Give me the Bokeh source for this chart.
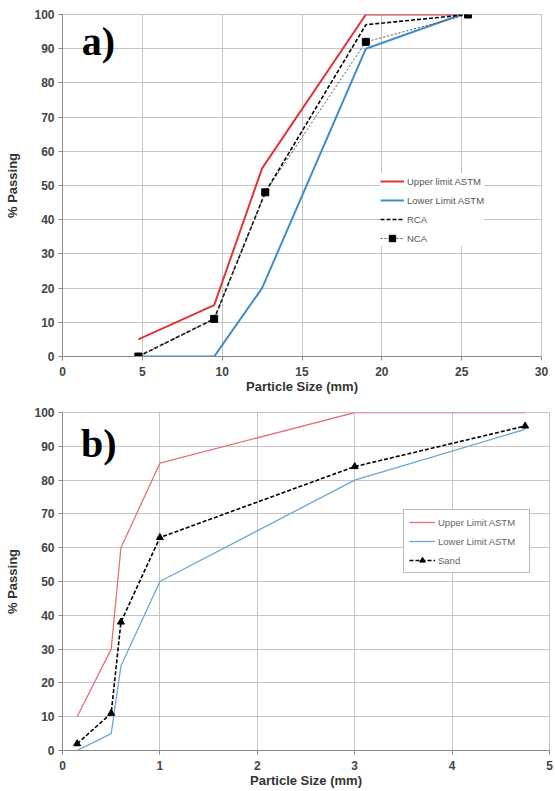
from bokeh.plotting import figure
from bokeh.models import FixedTicker, Range1d, Legend, LegendItem, Label
from bokeh.layouts import column
from bokeh.embed import file_html
from bokeh.resources import INLINE

# ---- Panel a data ----
a_upper_x = [4.75, 9.5, 12.5, 19.0, 25.0]
a_upper_y = [5, 15, 55, 100, 100]
a_lower_x = [4.75, 9.5, 12.5, 19.0, 25.0]
a_lower_y = [0, 0, 20, 90, 100]
a_rca_x = [4.75, 9.5, 12.7, 19.0, 25.4]
a_rca_y = [0, 11, 48, 97, 100]
a_nca_x = [4.75, 9.5, 12.7, 19.0, 25.4]
a_nca_y = [0, 11, 48, 92, 100]
a_xticks = [0, 5, 10, 15, 20, 25, 30]

# ---- Panel b data ----
b_upper_x = [0.15, 0.5, 0.6, 1.0, 3.0, 4.75]
b_upper_y = [10, 30, 60, 85, 100, 100]
b_lower_x = [0.15, 0.5, 0.6, 1.0, 3.0, 4.75]
b_lower_y = [0, 5, 25, 50, 80, 95]
b_sand_x = [0.15, 0.5, 0.6, 1.0, 3.0, 4.75]
b_sand_y = [2, 11, 38, 63, 84, 96]
b_xticks = [0, 1, 2, 3, 4, 5]

yticks = [0, 10, 20, 30, 40, 50, 60, 70, 80, 90, 100]

FONT = "Liberation Sans"
GRID = "#c4c4c4"
AXIS = "#8a8a8a"


def style(p, xticks):
    p.xaxis.ticker = FixedTicker(ticks=xticks)
    p.yaxis.ticker = FixedTicker(ticks=yticks)
    p.xgrid.ticker = FixedTicker(ticks=xticks)
    p.ygrid.ticker = FixedTicker(ticks=yticks)
    for ax in (p.xaxis[0], p.yaxis[0]):
        ax.axis_line_color = AXIS
        ax.major_tick_line_color = AXIS
        ax.major_tick_out = 4
        ax.major_tick_in = 0
        ax.minor_tick_line_color = None
        ax.major_label_text_font = FONT
        ax.major_label_text_font_style = "bold"
        ax.major_label_text_font_size = "12px"
        ax.major_label_text_color = "#444444"
        ax.axis_label_text_font = FONT
        ax.axis_label_text_font_style = "bold"
        ax.axis_label_text_font_size = "13px"
        ax.axis_label_text_color = "#333333"
    p.xaxis.major_label_standoff = 6
    p.xaxis.axis_label_standoff = 0
    p.yaxis.major_label_standoff = 4
    p.yaxis.axis_label_standoff = 11
    p.xaxis.axis_label = "Particle Size (mm)"
    p.yaxis.axis_label = "% Passing"
    p.xgrid.grid_line_color = GRID
    p.ygrid.grid_line_color = GRID
    p.outline_line_color = GRID
    p.background_fill_color = "white"
    p.border_fill_color = "white"


# ---------------- Panel a ----------------
pa = figure(frame_width=479, frame_height=342, output_backend="svg", toolbar_location=None,
            x_range=Range1d(0, 30), y_range=Range1d(0, 100),
            min_border_left=62, min_border_right=10, min_border_top=14, min_border_bottom=30)
style(pa, a_xticks)

ra1 = pa.line(a_upper_x, a_upper_y, line_color="#e0343a", line_width=2)
ra2 = pa.line(a_lower_x, a_lower_y, line_color="#3f8ccb", line_width=2)
ra3 = pa.line(a_rca_x, a_rca_y, line_color="black", line_width=1.6, line_dash="4 2")
ra4 = pa.line(a_nca_x, a_nca_y, line_color="#555555", line_width=1, line_dash="2 2")
ra5 = pa.scatter(a_nca_x, a_nca_y, marker="square", size=7, fill_color="black", line_color="black")

leg_a = Legend(items=[
    LegendItem(label="Upper limit ASTM", renderers=[ra1]),
    LegendItem(label="Lower Limit ASTM", renderers=[ra2]),
    LegendItem(label="RCA", renderers=[ra3]),
    LegendItem(label="NCA", renderers=[ra4, ra5]),
], location=(318, 110))
leg_a.label_text_font = FONT
leg_a.label_text_font_size = "9.5px"
leg_a.label_text_color = "#555555"
leg_a.glyph_width = 24
leg_a.glyph_height = 16
leg_a.label_height = 16
leg_a.spacing = 3
leg_a.padding = 6
leg_a.label_standoff = 3
leg_a.border_line_color = None
leg_a.background_fill_color = "white"
leg_a.background_fill_alpha = 1.0
pa.add_layout(leg_a)

pa.add_layout(Label(x=1.2, y=92, text="a)", text_font="Liberation Serif",
                    text_font_style="bold", text_font_size="40px",
                    text_baseline="middle", text_color="black"))

# ---------------- Panel b ----------------
pb = figure(frame_width=487, frame_height=338, output_backend="svg", toolbar_location=None,
            x_range=Range1d(0, 5), y_range=Range1d(0, 100),
            min_border_left=62, min_border_right=4, min_border_top=16, min_border_bottom=30)
style(pb, b_xticks)

rb1 = pb.line(b_upper_x, b_upper_y, line_color="#e87078", line_width=1.3)
rb2 = pb.line(b_lower_x, b_lower_y, line_color="#6aa6d6", line_width=1.3)
rb3 = pb.line(b_sand_x, b_sand_y, line_color="black", line_width=1.6, line_dash="4 2")
rb4 = pb.scatter(b_sand_x, b_sand_y, marker="triangle", size=7, fill_color="black", line_color="black")

leg_b = Legend(items=[
    LegendItem(label="Upper Limit ASTM", renderers=[rb1]),
    LegendItem(label="Lower Limit ASTM", renderers=[rb2]),
    LegendItem(label="Sand", renderers=[rb3, rb4]),
], location=(341, 177))
leg_b.label_text_font = FONT
leg_b.label_text_font_size = "9.5px"
leg_b.label_text_color = "#666666"
leg_b.glyph_width = 26
leg_b.glyph_height = 14
leg_b.label_height = 14
leg_b.label_width = 86
leg_b.spacing = 5
leg_b.padding = 5
leg_b.label_standoff = 3
leg_b.border_line_color = "#777777"
leg_b.border_line_width = 1
leg_b.background_fill_color = "white"
leg_b.background_fill_alpha = 1.0
pb.add_layout(leg_b)

pb.add_layout(Label(x=0.19, y=90.8, text="b)", text_font="Liberation Serif",
                    text_font_style="bold", text_font_size="40px",
                    text_baseline="middle", text_color="black"))

layout = column(pa, pb, spacing=0)
open("out.html", "w").write(file_html(layout, INLINE))
